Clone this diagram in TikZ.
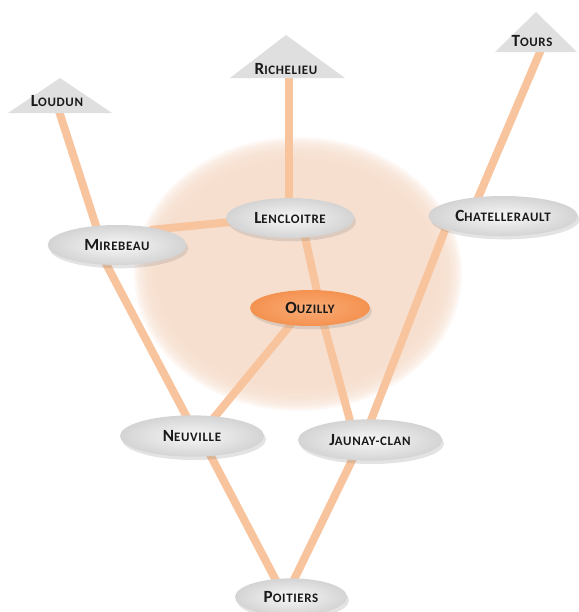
\documentclass[tikz,border=0pt]{standalone}
\usepackage{fontspec}
\setmainfont{Carlito}
\newfontfamily\lblfont[LetterSpace=5]{Carlito}
\usetikzlibrary{shadows,shapes.geometric}
\definecolor{edgec}{RGB}{248,196,158}
\definecolor{peach}{RGB}{246,221,204}
\definecolor{ouzc}{RGB}{244,146,80}
\newcommand\scn[2]{{\fontsize{12.8}{13}\selectfont #1}{\fontsize{9.7}{10}\selectfont #2}}
\pgfdeclarelayer{bg}
\pgfdeclarelayer{edges}
\pgfsetlayers{bg,edges,main}
\tikzset{
  city/.style={ellipse, inner sep=0pt, font=\lblfont\bfseries, text=black!90,
    inner color=gray!6, outer color=gray!34,
    drop shadow={opacity=0.22, shadow xshift=1.5pt, shadow yshift=-2.5pt}},
  hub/.style={city, inner color={rgb,255:red,250;green,172;blue,118}, outer color=ouzc},
  tri/.style={fill=gray!25},
  lbl/.style={font=\lblfont\bfseries, text=black!90, inner sep=0pt},
  road/.style={draw=edgec, line width=6pt},
}
\begin{document}
\begin{tikzpicture}[x=0.75pt,y=-0.75pt]
\useasboundingbox (0,0) rectangle (579,612);

% big halo
\begin{pgfonlayer}{bg}
  \foreach \k in {0,...,11}{
    \fill[peach, opacity=0.2] (298,274) ellipse ({164-2*\k} and {137-2*\k});
  }
\end{pgfonlayer}

% triangles
\fill[tri] (60,78) -- (112,113) -- (8,113) -- cycle;
\fill[tri] (286,35) -- (345,78) -- (230,78) -- cycle;
\fill[tri] (536,12) -- (577,52) -- (495,52) -- cycle;
\node[lbl] (loudun) at (57,101) {\scn{L}{OUDUN}};
\node[lbl] (richelieu) at (286,69) {\scn{R}{ICHELIEU}};
\node[lbl] (tours) at (532,41) {\scn{T}{OURS}};

% ellipse nodes
\node[city, minimum width=96pt, minimum height=30pt] (lencloitre) at (290,218) {\scn{L}{ENCLOITRE}};
\node[city, minimum width=104pt, minimum height=30pt] (mirebeau) at (117,245) {\scn{M}{IREBEAU}};
\node[city, minimum width=112pt, minimum height=30pt] (chatellerault) at (503,216) {\scn{C}{HATELLERAULT}};
\node[hub, minimum width=90pt, minimum height=27pt] (ouzilly) at (310,308) {\scn{O}{UZILLY}};
\node[city, minimum width=108pt, minimum height=31pt] (neuville) at (192,436) {\scn{N}{EUVILLE}};
\node[city, minimum width=108pt, minimum height=31pt] (jaunay) at (370,440) {\scn{J}{AUNAY-CLAN}};
\node[city, minimum width=84pt, minimum height=28pt] (poitiers) at (291,597) {\scn{P}{OITIERS}};

% connector end points
\coordinate (lo1) at (58,108);   \coordinate (mi1) at (99,235);
\coordinate (mi2) at (103,258);  \coordinate (ne1) at (191,425);
\coordinate (mi3) at (150,230);  \coordinate (le1) at (240,221);
\coordinate (ri1) at (289,72);   \coordinate (le2) at (289,205);
\coordinate (le3) at (303,228);  \coordinate (ou1) at (319,300);
\coordinate (ou2) at (296,318);  \coordinate (ne2) at (208,425);
\coordinate (ou3) at (322,318);  \coordinate (ja1) at (352,428);
\coordinate (to1) at (543,45);   \coordinate (ch1) at (475,205);
\coordinate (ch2) at (445,230);  \coordinate (ja2) at (368,428);
\coordinate (ne3) at (205,445);  \coordinate (po1) at (281,590);
\coordinate (ja3) at (358,448);  \coordinate (po2) at (289,590);

\begin{pgfonlayer}{edges}
  \draw[road] (lo1) -- (mi1);
  \draw[road] (mi2) -- (ne1);
  \draw[road] (mi3) -- (le1);
  \draw[road] (ri1) -- (le2);
  \draw[road] (le3) -- (ou1);
  \draw[road] (ou2) -- (ne2);
  \draw[road] (ou3) -- (ja1);
  \draw[road] (to1) -- (ch1);
  \draw[road] (ch2) -- (ja2);
  \draw[road] (ne3) -- (po1);
  \draw[road] (ja3) -- (po2);
\end{pgfonlayer}
\end{tikzpicture}
\end{document}
